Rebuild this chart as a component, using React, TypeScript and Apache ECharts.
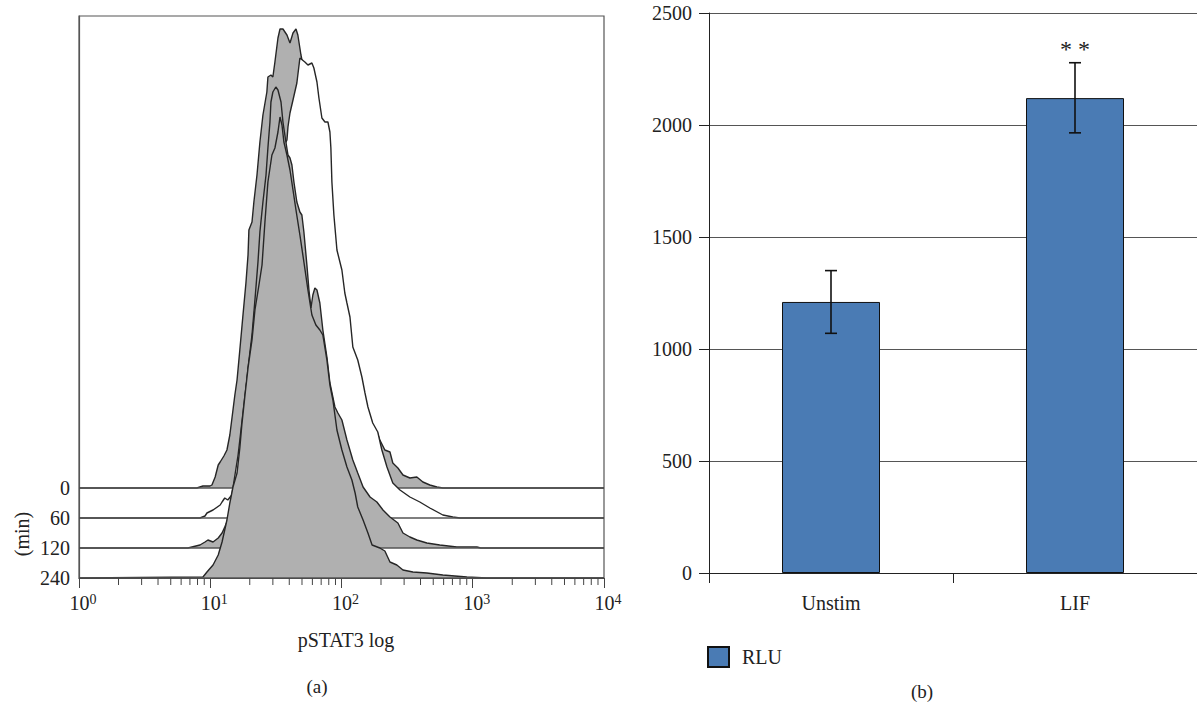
import React, { useEffect, useRef } from 'react';
import * as echarts from 'echarts';

const FONT = '"Liberation Serif", "Times New Roman", serif';
const TEXT = '#222';

// ---- Panel (a): offset flow-cytometry histograms ----
const timeLabels = ['0', '60', '120', '240'];
const timeOffsets = [90, 60, 30, 0];
const timeFills = ['#b0b0b0', '#ffffff', '#b0b0b0', '#b0b0b0'];

const x0 = [1, 7.9, 8.8, 9.95, 10.3, 10.9, 11.5, 11.9, 12.7, 13.4, 14.1, 14.9, 15.4, 16.0, 16.8, 17.7, 18.7, 19.4, 19.7, 20.8, 21.5, 22.7, 23.9, 25.2, 27.0, 27.5, 29.0, 30.0, 31.1, 32.8, 34.0, 35.8, 38.4, 40.5, 42.7, 45.0, 46.5, 49.1, 52.6, 59.5, 68.4, 81.6, 93.9, 116, 143, 173, 186, 196, 214, 234, 246, 269, 294, 332, 375, 417, 471, 533, 592, 10000];
const h0 = [0, 0, 2, 2, 3, 11, 23, 26, 32, 38, 53, 78, 93, 108, 138, 171, 205, 233, 258, 266, 286, 313, 346, 373, 396, 411, 413, 411, 426, 450, 459, 459, 453, 445, 455, 459, 453, 433, 413, 388, 338, 278, 198, 148, 98, 63, 56, 48, 38, 36, 25, 20, 13, 10, 11, 6, 3, 1, 0, 0];

const x60 = [1, 6.76, 8.35, 9.12, 9.44, 10.5, 11.9, 12.3, 12.9, 13.6, 14.6, 16.3, 18.4, 20.8, 23.1, 25.2, 27.5, 31.1, 35.2, 38.4, 39.1, 40.5, 42.7, 45.7, 48.2, 52.6, 55.5, 59.5, 61.6, 65.0, 67.3, 70.9, 74.8, 78.8, 81.6, 83.0, 84.5, 87.5, 92.3, 100.7, 106, 110, 116, 122, 133, 143, 151, 159, 173, 189, 203, 222, 246, 279, 332, 395, 471, 592, 705, 798, 10000];
const h60 = [0, 0, 0, 2, 5, 8, 13, 16, 20, 18, 23, 63, 123, 178, 243, 293, 333, 353, 368, 378, 391, 405, 418, 435, 460, 456, 453, 455, 450, 436, 420, 400, 396, 396, 386, 370, 336, 303, 268, 248, 225, 215, 201, 171, 158, 141, 125, 111, 95, 86, 68, 51, 35, 28, 21, 16, 10, 3, 1, 0, 0];

const x120 = [1, 6.76, 8.35, 9.12, 9.60, 10.5, 11.5, 12.3, 12.9, 13.6, 14.1, 14.9, 16.0, 16.8, 17.4, 18.4, 19.4, 20.8, 21.9, 23.1, 23.9, 25.2, 26.6, 27.5, 28.5, 29.0, 30.0, 31.6, 32.8, 34.6, 35.8, 37.7, 39.1, 40.5, 41.9, 43.4, 45.7, 48.2, 49.9, 51.7, 54.5, 56.5, 58.5, 60.5, 62.7, 65.0, 68.4, 72.1, 77.4, 81.6, 89.1, 93.9, 100.7, 110, 122, 133, 146, 165, 186, 207, 234, 269, 294, 332, 375, 447, 561, 757, 1075, 1150, 10000];
const h120 = [0, 0, 3, 6, 8, 6, 10, 15, 21, 28, 38, 48, 60, 83, 108, 148, 180, 213, 248, 286, 316, 346, 373, 400, 426, 446, 456, 461, 458, 446, 426, 406, 393, 390, 383, 366, 346, 336, 333, 316, 283, 258, 240, 253, 260, 258, 245, 218, 191, 165, 141, 135, 128, 108, 88, 75, 61, 51, 46, 38, 31, 25, 15, 11, 8, 5, 3, 1, 1, 0, 0];

const x240 = [1, 8.80, 9.44, 10.5, 11.5, 12.3, 13.4, 14.1, 14.9, 16.0, 16.8, 17.4, 18.4, 19.4, 20.8, 21.9, 23.5, 24.8, 26.1, 27.5, 29.5, 31.1, 32.8, 34.0, 35.2, 36.4, 38.4, 40.5, 42.7, 45.0, 48.2, 51.7, 55.5, 59.5, 63.8, 68.4, 72.1, 77.4, 81.6, 86.0, 92.3, 100.7, 110, 120, 127, 133, 146, 159, 171, 196, 214, 234, 264, 294, 350, 447, 592, 902, 1280, 10000];
const h240 = [0, 1, 6, 13, 23, 36, 58, 75, 91, 105, 130, 153, 183, 210, 238, 268, 293, 313, 356, 396, 423, 430, 446, 461, 453, 436, 423, 408, 388, 368, 343, 316, 288, 263, 253, 248, 243, 218, 193, 178, 148, 128, 111, 98, 85, 71, 58, 45, 33, 30, 27, 16, 13, 8, 6, 5, 3, 1, 0, 0];

const histX = [x0, x60, x120, x240];
const histH = [h0, h60, h120, h240];

const minorTicks = [2, 3, 4, 5, 6, 7, 8, 9, 20, 30, 40, 50, 60, 70, 80, 90, 200, 300, 400, 500, 600, 700, 800, 900, 2000, 3000, 4000, 5000, 6000, 7000, 8000, 9000];

// ---- Panel (b): luciferase bar chart ----
const barCategories = ['Unstim', 'LIF'];
const rluMeans = [1210, 2120];
const rluLow = [1070, 1965];
const rluHigh = [1350, 2278];
const significance = ['', '* *'];

export default function App() {
  const ref = useRef<HTMLDivElement>(null);

  useEffect(() => {
    const chart = echarts.init(ref.current as HTMLDivElement, null, { renderer: 'svg' });

    const histSeries: any[] = [];
    histX.forEach((xs, k) => {
      const off = timeOffsets[k];
      histSeries.push({
        type: 'line',
        xAxisIndex: 0,
        yAxisIndex: 0,
        data: xs.map((x, i) => [x, histH[k][i] + off]),
        symbol: 'none',
        showSymbol: false,
        silent: true,
        lineStyle: { color: '#262626', width: 1.4 },
        areaStyle: { color: timeFills[k], opacity: 1, origin: off },
        z: 2 + k * 2,
      });
      histSeries.push({
        type: 'line',
        xAxisIndex: 0,
        yAxisIndex: 0,
        data: [[1, off], [10000, off]],
        symbol: 'none',
        showSymbol: false,
        silent: true,
        lineStyle: { color: '#555', width: 1.5 },
        z: 3 + k * 2,
      });
    });

    const option: any = {
      animation: false,
      backgroundColor: '#fff',
      grid: [
        { left: 79, top: 16, width: 525, height: 562, show: true, borderColor: '#555', borderWidth: 1.2, backgroundColor: 'transparent' },
        { left: 709, top: 13, width: 488, height: 560 },
      ],
      legend: {
        data: ['RLU'],
        left: 707,
        top: 646,
        padding: 0,
        icon: 'rect',
        itemWidth: 21,
        itemHeight: 20,
        textStyle: { fontFamily: FONT, fontSize: 20, color: TEXT, padding: [0, 0, 0, 8] },
        selectedMode: false,
      },
      xAxis: [
        {
          type: 'log',
          gridIndex: 0,
          logBase: 10,
          min: 1,
          max: 10000,
          axisLine: { show: true, lineStyle: { color: '#444', width: 1.2 } },
          axisTick: { show: true, length: 10, lineStyle: { color: '#444' } },
          splitLine: { show: false },
          axisLabel: {
            margin: 14,
            formatter: (v: number) => `{b|10}{s|${Math.round(Math.log10(v))}}`,
            rich: {
              b: { fontFamily: FONT, fontSize: 20, color: TEXT, lineHeight: 22, padding: [0, 0, 0, 8] },
              s: { fontFamily: FONT, fontSize: 14, color: TEXT, lineHeight: 13, verticalAlign: 'top' },
            },
          },
        },
        {
          type: 'category',
          gridIndex: 1,
          data: barCategories,
          axisLine: { show: true, lineStyle: { color: '#222' } },
          axisTick: { show: true, length: 10, lineStyle: { color: '#222' } },
          axisLabel: { fontFamily: FONT, fontSize: 20, color: TEXT, margin: 20 },
        },
      ],
      yAxis: [
        {
          type: 'value',
          gridIndex: 0,
          min: 0,
          max: 562,
          interval: 30,
          axisLine: { show: true, lineStyle: { color: '#555', width: 1.2 } },
          axisTick: { show: false },
          splitLine: { show: false },
          axisLabel: {
            margin: 9,
            fontFamily: FONT,
            fontSize: 20,
            color: TEXT,
            showMaxLabel: false,
            formatter: (v: number) => {
              const i = timeOffsets.indexOf(v);
              return i >= 0 ? timeLabels[i] : '';
            },
          },
        },
        {
          type: 'value',
          gridIndex: 1,
          min: 0,
          max: 2500,
          interval: 500,
          axisLine: { show: true, lineStyle: { color: '#222' } },
          axisTick: { show: true, length: 10, lineStyle: { color: '#222' } },
          splitLine: { show: true, lineStyle: { color: '#555', width: 1 } },
          axisLabel: { margin: 17, fontFamily: FONT, fontSize: 20, color: TEXT, formatter: (v: number) => String(v) },
        },
      ],
      series: [
        ...histSeries,
        {
          type: 'custom',
          xAxisIndex: 0,
          yAxisIndex: 0,
          clip: false,
          silent: true,
          z: 20,
          data: minorTicks.map((v) => [v, 0]),
          renderItem: (params: any, api: any) => {
            const p = api.coord([api.value(0), 0]);
            return {
              type: 'line',
              shape: { x1: p[0], y1: p[1], x2: p[0], y2: p[1] + 7 },
              style: { stroke: '#444', lineWidth: 1 },
            };
          },
        },
        {
          type: 'bar',
          name: 'RLU',
          xAxisIndex: 1,
          yAxisIndex: 1,
          data: rluMeans,
          barWidth: 98,
          silent: true,
          itemStyle: { color: '#4a7bb4', borderColor: '#111', borderWidth: 1 },
          z: 3,
        },
        {
          type: 'custom',
          xAxisIndex: 1,
          yAxisIndex: 1,
          clip: false,
          silent: true,
          z: 6,
          encode: { x: 0, y: [1, 2] },
          data: rluMeans.map((m, i) => [i, rluLow[i], rluHigh[i]]),
          renderItem: (params: any, api: any) => {
            const i = api.value(0);
            const lo = api.coord([i, api.value(1)]);
            const hi = api.coord([i, api.value(2)]);
            const x = lo[0];
            const w = 6;
            const st = { stroke: '#111', lineWidth: 1.6 };
            const children: any[] = [
              { type: 'line', shape: { x1: x, y1: lo[1], x2: x, y2: hi[1] }, style: st },
              { type: 'line', shape: { x1: x - w, y1: lo[1], x2: x + w, y2: lo[1] }, style: st },
              { type: 'line', shape: { x1: x - w, y1: hi[1], x2: x + w, y2: hi[1] }, style: st },
            ];
            const sig = significance[params.dataIndex];
            if (sig) {
              children.push({
                type: 'text',
                x,
                y: hi[1] - 14,
                style: { text: sig, fontFamily: FONT, fontSize: 24, fill: TEXT, align: 'center', verticalAlign: 'middle' },
              });
            }
            return { type: 'group', children };
          },
        },
      ],
      graphic: [
        { type: 'text', x: 22, y: 534, rotation: Math.PI / 2, style: { text: '(min)', fontFamily: FONT, fontSize: 20, fill: TEXT, align: 'center', verticalAlign: 'middle' } },
        { type: 'text', x: 346, y: 640, style: { text: 'pSTAT3 log', fontFamily: FONT, fontSize: 20, fill: TEXT, align: 'center', verticalAlign: 'middle' } },
        { type: 'text', x: 317, y: 686, style: { text: '(a)', fontFamily: FONT, fontSize: 19, fill: TEXT, align: 'center', verticalAlign: 'middle' } },
        { type: 'text', x: 922, y: 691, style: { text: '(b)', fontFamily: FONT, fontSize: 19, fill: TEXT, align: 'center', verticalAlign: 'middle' } },
      ],
    };

    chart.setOption(option);
    return () => chart.dispose();
  }, []);

  return <div ref={ref} style={{ position: 'fixed', left: 0, top: 0, width: 1197, height: 704 }} />;
}
